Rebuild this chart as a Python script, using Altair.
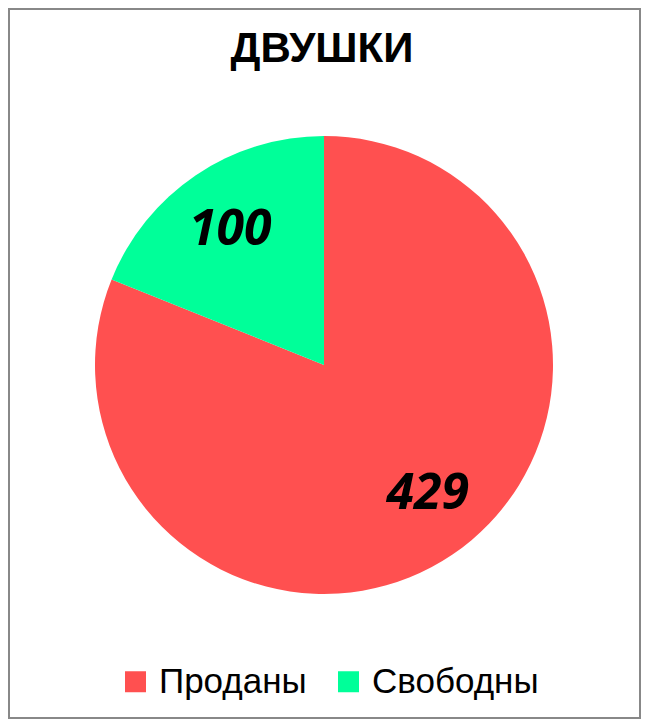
import altair as alt
import pandas as pd
import math

categories = ["Проданы", "Свободны"]
values = [429, 100]
colors = ["#FF5050", "#00FF99"]
title_text = "ДВУШКИ"

df = pd.DataFrame({"cat": categories, "val": values, "idx": [0, 1]})
total = sum(values)

FONT = "Liberation Sans, Arial, sans-serif"

base = alt.Chart(df).encode(
    theta=alt.Theta("val:Q", stack=True),
    order=alt.Order("idx:O"),
)

pie = base.mark_arc(radius=229, stroke=None).encode(
    color=alt.Color(
        "cat:N",
        scale=alt.Scale(domain=categories, range=colors),
        legend=alt.Legend(
            title=None,
            orient="none",
            legendX=110,
            legendY=656,
            direction="horizontal",
            symbolType="square",
            symbolSize=441,
            symbolStrokeWidth=0,
            labelFont=FONT,
            labelFontSize=35,
            labelColor="#000000",
            labelOffset=6,
            columnPadding=24,
            labelLimit=300,
        ),
    ),
    x=alt.value(316),
    y=alt.value(357),
)

stacked = (
    alt.Chart(df)
    .transform_window(cum="sum(val)", sort=[alt.SortField("idx")], frame=[None, 0])
    .transform_calculate(mid="datum.cum - datum.val / 2")
)

def label_layer(cat, dx, dy):
    return stacked.transform_filter(alt.datum.cat == cat).mark_text(
        radius=164,
        font="Open Sans",
        fontSize=50,
        fontWeight="bold",
        fontStyle="italic",
        color="#000000",
        dx=dx,
        dy=dy,
    ).encode(
        theta=alt.Theta(
            "mid:Q",
            stack=None,
            scale=alt.Scale(domain=[0, total], range=[0, 2 * math.pi]),
        ),
        text=alt.Text("val:Q"),
        x=alt.value(316),
        y=alt.value(357),
    )

labels_a = label_layer(categories[0], 12, -7)
labels_b = label_layer(categories[1], -2, 1)

title_df = pd.DataFrame({"t": [title_text]})
title = alt.Chart(title_df).mark_text(
    font=FONT,
    fontSize=42,
    fontWeight="bold",
    color="#000000",
    baseline="alphabetic",
    align="center",
).encode(
    text="t:N",
    x=alt.value(314),
    y=alt.value(54),
)

border = alt.Chart(title_df).mark_rect(
    fill=None, stroke="#888888", strokeWidth=2
).encode(
    x=alt.value(1), x2=alt.value(632), y=alt.value(1), y2=alt.value(710)
)

chart = (
    alt.layer(pie, labels_a, labels_b, title, border)
    .resolve_scale(theta="independent")
    .properties(width=633, height=711, padding=0, autosize="none")
    .configure_view(stroke=None)
    .configure(background="#FFFFFF")
)

chart.save("out.html", embed_options={"renderer": "svg", "actions": False})
